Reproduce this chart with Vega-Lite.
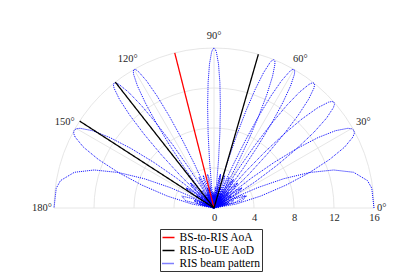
{
"$schema":"https://vega.github.io/schema/vega-lite/v6.json",
"width":320,"height":160,"autosize":"none",
"padding":{"left":54,"top":48,"right":41,"bottom":64},
"background":"white",
"config":{"view":{"stroke":null},"font":"Liberation Serif",
"legend":{"labelFont":"Liberation Serif","labelFontSize":11.5,"labelColor":"#000","symbolType":"stroke","symbolSize":144,"symbolStrokeWidth":1.3,"rowPadding":0,"labelOffset":4,"padding":1.5,"strokeColor":"#333","fillColor":"white"}},
"datasets":{
"circ":[{"a":0,"c":[4,8,12,16]},{"a":5,"c":[4,8,12,16]},{"a":10,"c":[4,8,12,16]},{"a":15,"c":[4,8,12,16]},{"a":20,"c":[4,8,12,16]},{"a":25,"c":[4,8,12,16]},{"a":30,"c":[4,8,12,16]},{"a":35,"c":[4,8,12,16]},{"a":40,"c":[4,8,12,16]},{"a":45,"c":[4,8,12,16]},{"a":50,"c":[4,8,12,16]},{"a":55,"c":[4,8,12,16]},{"a":60,"c":[4,8,12,16]},{"a":65,"c":[4,8,12,16]},{"a":70,"c":[4,8,12,16]},{"a":75,"c":[4,8,12,16]},{"a":80,"c":[4,8,12,16]},{"a":85,"c":[4,8,12,16]},{"a":90,"c":[4,8,12,16]},{"a":95,"c":[4,8,12,16]},{"a":100,"c":[4,8,12,16]},{"a":105,"c":[4,8,12,16]},{"a":110,"c":[4,8,12,16]},{"a":115,"c":[4,8,12,16]},{"a":120,"c":[4,8,12,16]},{"a":125,"c":[4,8,12,16]},{"a":130,"c":[4,8,12,16]},{"a":135,"c":[4,8,12,16]},{"a":140,"c":[4,8,12,16]},{"a":145,"c":[4,8,12,16]},{"a":150,"c":[4,8,12,16]},{"a":155,"c":[4,8,12,16]},{"a":160,"c":[4,8,12,16]},{"a":165,"c":[4,8,12,16]},{"a":170,"c":[4,8,12,16]},{"a":175,"c":[4,8,12,16]},{"a":180,"c":[4,8,12,16]}],
"spokes":[{"a":0,"r":0},{"a":0,"r":16},{"a":30,"r":0},{"a":30,"r":16},{"a":60,"r":0},{"a":60,"r":16},{"a":90,"r":0},{"a":90,"r":16},{"a":120,"r":0},{"a":120,"r":16},{"a":150,"r":0},{"a":150,"r":16},{"a":180,"r":0},{"a":180,"r":16}],
"labels":[{"a":0,"t":"0°"},{"a":30,"t":"30°"},{"a":60,"t":"60°"},{"a":90,"t":"90°"},{"a":120,"t":"120°"},{"a":150,"t":"150°"},{"a":180,"t":"180°"}],
"dirs":[{"s":"BS-to-RIS AoA","g":1,"a":104.2,"r":0},{"s":"BS-to-RIS AoA","g":1,"a":104.2,"r":16},
{"s":"RIS-to-UE AoD","g":2,"a":73.9,"r":0},{"s":"RIS-to-UE AoD","g":2,"a":73.9,"r":16},
{"s":"RIS-to-UE AoD","g":3,"a":128.1,"r":0},{"s":"RIS-to-UE AoD","g":3,"a":128.1,"r":16},
{"s":"RIS-to-UE AoD","g":4,"a":147.1,"r":0},{"s":"RIS-to-UE AoD","g":4,"a":147.1,"r":16}],
"beams":[
{"b":1,"u":1,"r":16},{"b":1,"u":0.9922,"r":15.9},{"b":1,"u":0.9844,"r":15.59},{"b":1,"u":0.9688,"r":14.41},{"b":1,"u":0.9531,"r":12.56},{"b":1,"u":0.9375,"r":10.2},{"b":1,"u":0.9219,"r":7.55},{"b":1,"u":0.9063,"r":4.82},{"b":1,"u":0.8906,"r":2.24},{"b":1,"u":0.875,"r":0},{"b":1,"u":0.8438,"r":2.91},{"b":1,"u":0.8125,"r":3.44},{"b":1,"u":0.7813,"r":2.1},{"b":1,"u":0.75,"r":0},{"b":1,"u":0.7188,"r":1.65},{"b":1,"u":0.6875,"r":2.12},{"b":1,"u":0.6563,"r":1.38},{"b":1,"u":0.625,"r":0},{"b":1,"u":0.5938,"r":1.19},{"b":1,"u":0.5625,"r":1.58},{"b":1,"u":0.5313,"r":1.05},{"b":1,"u":0.5,"r":0},{"b":1,"u":0.4375,"r":1.29},{"b":1,"u":0.375,"r":0},{"b":1,"u":0.3125,"r":1.13},{"b":1,"u":0.25,"r":0},{"b":1,"u":0.1875,"r":1.05},{"b":1,"u":0.125,"r":0},{"b":1,"u":0.0625,"r":1},{"b":1,"u":0,"r":0},
{"b":1,"u":-0.0625,"r":1},{"b":1,"u":-0.125,"r":0},{"b":1,"u":-0.1875,"r":1.05},{"b":1,"u":-0.25,"r":0},{"b":1,"u":-0.3125,"r":1.13},{"b":1,"u":-0.375,"r":0},{"b":1,"u":-0.4375,"r":1.29},{"b":1,"u":-0.5,"r":0},{"b":1,"u":-0.5313,"r":1.05},{"b":1,"u":-0.5625,"r":1.58},{"b":1,"u":-0.5938,"r":1.19},{"b":1,"u":-0.625,"r":0},{"b":1,"u":-0.6563,"r":1.38},{"b":1,"u":-0.6875,"r":2.12},{"b":1,"u":-0.7188,"r":1.65},{"b":1,"u":-0.75,"r":0},{"b":1,"u":-0.7813,"r":2.1},{"b":1,"u":-0.8125,"r":3.44},{"b":1,"u":-0.8438,"r":2.91},{"b":1,"u":-0.875,"r":0},{"b":1,"u":-0.8906,"r":2.24},{"b":1,"u":-0.9063,"r":4.82},{"b":1,"u":-0.9219,"r":7.55},{"b":1,"u":-0.9375,"r":10.2},{"b":1,"u":-0.9531,"r":12.56},{"b":1,"u":-0.9688,"r":14.41},{"b":1,"u":-0.9844,"r":15.59},{"b":1,"u":-0.9922,"r":15.9},{"b":1,"u":-1,"r":16},
{"b":2,"u":1,"r":0},{"b":2,"u":0.9844,"r":2.24},{"b":2,"u":0.9688,"r":4.82},{"b":2,"u":0.9531,"r":7.55},{"b":2,"u":0.9375,"r":10.2},{"b":2,"u":0.9219,"r":12.56},{"b":2,"u":0.9063,"r":14.41},{"b":2,"u":0.8906,"r":15.59},{"b":2,"u":0.8828,"r":15.9},{"b":2,"u":0.875,"r":16},{"b":2,"u":0.8672,"r":15.9},{"b":2,"u":0.8594,"r":15.59},{"b":2,"u":0.8438,"r":14.41},{"b":2,"u":0.8281,"r":12.56},{"b":2,"u":0.8125,"r":10.2},{"b":2,"u":0.7969,"r":7.55},{"b":2,"u":0.7813,"r":4.82},{"b":2,"u":0.7656,"r":2.24},{"b":2,"u":0.75,"r":0},{"b":2,"u":0.7188,"r":2.91},{"b":2,"u":0.6875,"r":3.44},{"b":2,"u":0.6563,"r":2.1},{"b":2,"u":0.625,"r":0},{"b":2,"u":0.5938,"r":1.65},{"b":2,"u":0.5625,"r":2.12},{"b":2,"u":0.5313,"r":1.38},{"b":2,"u":0.5,"r":0},{"b":2,"u":0.4688,"r":1.19},{"b":2,"u":0.4375,"r":1.58},{"b":2,"u":0.4063,"r":1.05},{"b":2,"u":0.375,"r":0},{"b":2,"u":0.3125,"r":1.29},{"b":2,"u":0.25,"r":0},{"b":2,"u":0.1875,"r":1.13},{"b":2,"u":0.125,"r":0},{"b":2,"u":0.0625,"r":1.05},{"b":2,"u":0,"r":0},{"b":2,"u":-0.0625,"r":1},{"b":2,"u":-0.125,"r":0},{"b":2,"u":-0.1875,"r":1},{"b":2,"u":-0.25,"r":0},{"b":2,"u":-0.3125,"r":1.05},{"b":2,"u":-0.375,"r":0},{"b":2,"u":-0.4375,"r":1.13},{"b":2,"u":-0.5,"r":0},{"b":2,"u":-0.5625,"r":1.29},{"b":2,"u":-0.625,"r":0},{"b":2,"u":-0.6563,"r":1.05},{"b":2,"u":-0.6875,"r":1.58},{"b":2,"u":-0.7188,"r":1.19},{"b":2,"u":-0.75,"r":0},{"b":2,"u":-0.7813,"r":1.38},{"b":2,"u":-0.8125,"r":2.12},{"b":2,"u":-0.8438,"r":1.65},{"b":2,"u":-0.875,"r":0},{"b":2,"u":-0.9063,"r":2.1},{"b":2,"u":-0.9375,"r":3.44},{"b":2,"u":-0.9688,"r":2.91},{"b":2,"u":-1,"r":0},
{"b":3,"u":1,"r":0},{"b":3,"u":0.9688,"r":2.1},{"b":3,"u":0.9375,"r":3.44},{"b":3,"u":0.9063,"r":2.91},{"b":3,"u":0.875,"r":0},{"b":3,"u":0.8594,"r":2.24},{"b":3,"u":0.8438,"r":4.82},{"b":3,"u":0.8281,"r":7.55},{"b":3,"u":0.8125,"r":10.2},{"b":3,"u":0.7969,"r":12.56},{"b":3,"u":0.7813,"r":14.41},{"b":3,"u":0.7656,"r":15.59},{"b":3,"u":0.7578,"r":15.9},{"b":3,"u":0.75,"r":16},{"b":3,"u":0.7422,"r":15.9},{"b":3,"u":0.7344,"r":15.59},{"b":3,"u":0.7188,"r":14.41},{"b":3,"u":0.7031,"r":12.56},{"b":3,"u":0.6875,"r":10.2},{"b":3,"u":0.6719,"r":7.55},{"b":3,"u":0.6563,"r":4.82},{"b":3,"u":0.6406,"r":2.24},{"b":3,"u":0.625,"r":0},{"b":3,"u":0.5938,"r":2.91},{"b":3,"u":0.5625,"r":3.44},{"b":3,"u":0.5313,"r":2.1},{"b":3,"u":0.5,"r":0},{"b":3,"u":0.4688,"r":1.65},{"b":3,"u":0.4375,"r":2.12},{"b":3,"u":0.4063,"r":1.38},{"b":3,"u":0.375,"r":0},{"b":3,"u":0.3438,"r":1.19},{"b":3,"u":0.3125,"r":1.58},{"b":3,"u":0.2813,"r":1.05},{"b":3,"u":0.25,"r":0},{"b":3,"u":0.1875,"r":1.29},{"b":3,"u":0.125,"r":0},{"b":3,"u":0.0625,"r":1.13},{"b":3,"u":0,"r":0},{"b":3,"u":-0.0625,"r":1.05},{"b":3,"u":-0.125,"r":0},{"b":3,"u":-0.1875,"r":1},{"b":3,"u":-0.25,"r":0},{"b":3,"u":-0.3125,"r":1},{"b":3,"u":-0.375,"r":0},{"b":3,"u":-0.4375,"r":1.05},{"b":3,"u":-0.5,"r":0},{"b":3,"u":-0.5625,"r":1.13},{"b":3,"u":-0.625,"r":0},{"b":3,"u":-0.6875,"r":1.29},{"b":3,"u":-0.75,"r":0},{"b":3,"u":-0.7813,"r":1.05},{"b":3,"u":-0.8125,"r":1.58},{"b":3,"u":-0.8438,"r":1.19},{"b":3,"u":-0.875,"r":0},{"b":3,"u":-0.9063,"r":1.38},{"b":3,"u":-0.9375,"r":2.12},{"b":3,"u":-0.9688,"r":1.65},{"b":3,"u":-1,"r":0},
{"b":4,"u":1,"r":0},{"b":4,"u":0.9688,"r":1.38},{"b":4,"u":0.9375,"r":2.12},{"b":4,"u":0.9063,"r":1.65},{"b":4,"u":0.875,"r":0},{"b":4,"u":0.8438,"r":2.1},{"b":4,"u":0.8125,"r":3.44},{"b":4,"u":0.7813,"r":2.91},{"b":4,"u":0.75,"r":0},{"b":4,"u":0.7344,"r":2.24},{"b":4,"u":0.7188,"r":4.82},{"b":4,"u":0.7031,"r":7.55},{"b":4,"u":0.6875,"r":10.2},{"b":4,"u":0.6719,"r":12.56},{"b":4,"u":0.6563,"r":14.41},{"b":4,"u":0.6406,"r":15.59},{"b":4,"u":0.6328,"r":15.9},{"b":4,"u":0.625,"r":16},{"b":4,"u":0.6172,"r":15.9},{"b":4,"u":0.6094,"r":15.59},{"b":4,"u":0.5938,"r":14.41},{"b":4,"u":0.5781,"r":12.56},{"b":4,"u":0.5625,"r":10.2},{"b":4,"u":0.5469,"r":7.55},{"b":4,"u":0.5313,"r":4.82},{"b":4,"u":0.5156,"r":2.24},{"b":4,"u":0.5,"r":0},{"b":4,"u":0.4688,"r":2.91},{"b":4,"u":0.4375,"r":3.44},{"b":4,"u":0.4063,"r":2.1},{"b":4,"u":0.375,"r":0},{"b":4,"u":0.3438,"r":1.65},{"b":4,"u":0.3125,"r":2.12},{"b":4,"u":0.2813,"r":1.38},{"b":4,"u":0.25,"r":0},{"b":4,"u":0.2188,"r":1.19},{"b":4,"u":0.1875,"r":1.58},{"b":4,"u":0.1563,"r":1.05},{"b":4,"u":0.125,"r":0},{"b":4,"u":0.0625,"r":1.29},{"b":4,"u":0,"r":0},{"b":4,"u":-0.0625,"r":1.13},{"b":4,"u":-0.125,"r":0},{"b":4,"u":-0.1875,"r":1.05},{"b":4,"u":-0.25,"r":0},{"b":4,"u":-0.3125,"r":1},{"b":4,"u":-0.375,"r":0},{"b":4,"u":-0.4375,"r":1},{"b":4,"u":-0.5,"r":0},{"b":4,"u":-0.5625,"r":1.05},{"b":4,"u":-0.625,"r":0},{"b":4,"u":-0.6875,"r":1.13},{"b":4,"u":-0.75,"r":0},{"b":4,"u":-0.8125,"r":1.29},{"b":4,"u":-0.875,"r":0},{"b":4,"u":-0.9063,"r":1.05},{"b":4,"u":-0.9375,"r":1.58},{"b":4,"u":-0.9688,"r":1.19},{"b":4,"u":-1,"r":0},
{"b":5,"u":1,"r":0},{"b":5,"u":0.9688,"r":1.05},{"b":5,"u":0.9375,"r":1.58},{"b":5,"u":0.9063,"r":1.19},{"b":5,"u":0.875,"r":0},{"b":5,"u":0.8438,"r":1.38},{"b":5,"u":0.8125,"r":2.12},{"b":5,"u":0.7813,"r":1.65},{"b":5,"u":0.75,"r":0},{"b":5,"u":0.7188,"r":2.1},{"b":5,"u":0.6875,"r":3.44},{"b":5,"u":0.6563,"r":2.91},{"b":5,"u":0.625,"r":0},{"b":5,"u":0.6094,"r":2.24},{"b":5,"u":0.5938,"r":4.82},{"b":5,"u":0.5781,"r":7.55},{"b":5,"u":0.5625,"r":10.2},{"b":5,"u":0.5469,"r":12.56},{"b":5,"u":0.5313,"r":14.41},{"b":5,"u":0.5156,"r":15.59},{"b":5,"u":0.5078,"r":15.9},{"b":5,"u":0.5,"r":16},{"b":5,"u":0.4922,"r":15.9},{"b":5,"u":0.4844,"r":15.59},{"b":5,"u":0.4688,"r":14.41},{"b":5,"u":0.4531,"r":12.56},{"b":5,"u":0.4375,"r":10.2},{"b":5,"u":0.4219,"r":7.55},{"b":5,"u":0.4063,"r":4.82},{"b":5,"u":0.3906,"r":2.24},{"b":5,"u":0.375,"r":0},{"b":5,"u":0.3438,"r":2.91},{"b":5,"u":0.3125,"r":3.44},{"b":5,"u":0.2813,"r":2.1},{"b":5,"u":0.25,"r":0},{"b":5,"u":0.2188,"r":1.65},{"b":5,"u":0.1875,"r":2.12},{"b":5,"u":0.1563,"r":1.38},{"b":5,"u":0.125,"r":0},{"b":5,"u":0.0938,"r":1.19},{"b":5,"u":0.0625,"r":1.58},{"b":5,"u":0.0313,"r":1.05},{"b":5,"u":0,"r":0},{"b":5,"u":-0.0625,"r":1.29},{"b":5,"u":-0.125,"r":0},{"b":5,"u":-0.1875,"r":1.13},{"b":5,"u":-0.25,"r":0},{"b":5,"u":-0.3125,"r":1.05},{"b":5,"u":-0.375,"r":0},{"b":5,"u":-0.4375,"r":1},{"b":5,"u":-0.5,"r":0},{"b":5,"u":-0.5625,"r":1},{"b":5,"u":-0.625,"r":0},{"b":5,"u":-0.6875,"r":1.05},{"b":5,"u":-0.75,"r":0},{"b":5,"u":-0.8125,"r":1.13},{"b":5,"u":-0.875,"r":0},{"b":5,"u":-0.9375,"r":1.29},{"b":5,"u":-1,"r":0},
{"b":6,"u":1,"r":0},{"b":6,"u":0.9375,"r":1.29},{"b":6,"u":0.875,"r":0},{"b":6,"u":0.8438,"r":1.05},{"b":6,"u":0.8125,"r":1.58},{"b":6,"u":0.7813,"r":1.19},{"b":6,"u":0.75,"r":0},{"b":6,"u":0.7188,"r":1.38},{"b":6,"u":0.6875,"r":2.12},{"b":6,"u":0.6563,"r":1.65},{"b":6,"u":0.625,"r":0},{"b":6,"u":0.5938,"r":2.1},{"b":6,"u":0.5625,"r":3.44},{"b":6,"u":0.5313,"r":2.91},{"b":6,"u":0.5,"r":0},{"b":6,"u":0.4844,"r":2.24},{"b":6,"u":0.4688,"r":4.82},{"b":6,"u":0.4531,"r":7.55},{"b":6,"u":0.4375,"r":10.2},{"b":6,"u":0.4219,"r":12.56},{"b":6,"u":0.4063,"r":14.41},{"b":6,"u":0.3906,"r":15.59},{"b":6,"u":0.3828,"r":15.9},{"b":6,"u":0.375,"r":16},{"b":6,"u":0.3672,"r":15.9},{"b":6,"u":0.3594,"r":15.59},{"b":6,"u":0.3438,"r":14.41},{"b":6,"u":0.3281,"r":12.56},{"b":6,"u":0.3125,"r":10.2},{"b":6,"u":0.2969,"r":7.55},{"b":6,"u":0.2813,"r":4.82},{"b":6,"u":0.2656,"r":2.24},{"b":6,"u":0.25,"r":0},{"b":6,"u":0.2188,"r":2.91},{"b":6,"u":0.1875,"r":3.44},{"b":6,"u":0.1563,"r":2.1},{"b":6,"u":0.125,"r":0},{"b":6,"u":0.0938,"r":1.65},{"b":6,"u":0.0625,"r":2.12},{"b":6,"u":0.0313,"r":1.38},{"b":6,"u":0,"r":0},{"b":6,"u":-0.0313,"r":1.19},{"b":6,"u":-0.0625,"r":1.58},{"b":6,"u":-0.0938,"r":1.05},{"b":6,"u":-0.125,"r":0},{"b":6,"u":-0.1875,"r":1.29},{"b":6,"u":-0.25,"r":0},{"b":6,"u":-0.3125,"r":1.13},{"b":6,"u":-0.375,"r":0},{"b":6,"u":-0.4375,"r":1.05},{"b":6,"u":-0.5,"r":0},{"b":6,"u":-0.5625,"r":1},{"b":6,"u":-0.625,"r":0},{"b":6,"u":-0.6875,"r":1},{"b":6,"u":-0.75,"r":0},{"b":6,"u":-0.8125,"r":1.05},{"b":6,"u":-0.875,"r":0},{"b":6,"u":-0.9375,"r":1.13},{"b":6,"u":-1,"r":0},
{"b":7,"u":1,"r":0},{"b":7,"u":0.9375,"r":1},{"b":7,"u":0.875,"r":0},{"b":7,"u":0.8125,"r":1.05},{"b":7,"u":0.75,"r":0},{"b":7,"u":0.6875,"r":1.13},{"b":7,"u":0.625,"r":0},{"b":7,"u":0.5625,"r":1.29},{"b":7,"u":0.5,"r":0},{"b":7,"u":0.4688,"r":1.05},{"b":7,"u":0.4375,"r":1.58},{"b":7,"u":0.4063,"r":1.19},{"b":7,"u":0.375,"r":0},{"b":7,"u":0.3438,"r":1.38},{"b":7,"u":0.3125,"r":2.12},{"b":7,"u":0.2813,"r":1.65},{"b":7,"u":0.25,"r":0},{"b":7,"u":0.2188,"r":2.1},{"b":7,"u":0.1875,"r":3.44},{"b":7,"u":0.1563,"r":2.91},{"b":7,"u":0.125,"r":0},{"b":7,"u":0.1094,"r":2.24},{"b":7,"u":0.0938,"r":4.82},{"b":7,"u":0.0781,"r":7.55},{"b":7,"u":0.0625,"r":10.2},{"b":7,"u":0.0469,"r":12.56},{"b":7,"u":0.0313,"r":14.41},{"b":7,"u":0.0156,"r":15.59},{"b":7,"u":0.0078,"r":15.9},{"b":7,"u":0,"r":16},
{"b":7,"u":-0.0078,"r":15.9},{"b":7,"u":-0.0156,"r":15.59},{"b":7,"u":-0.0313,"r":14.41},{"b":7,"u":-0.0469,"r":12.56},{"b":7,"u":-0.0625,"r":10.2},{"b":7,"u":-0.0781,"r":7.55},{"b":7,"u":-0.0938,"r":4.82},{"b":7,"u":-0.1094,"r":2.24},{"b":7,"u":-0.125,"r":0},{"b":7,"u":-0.1563,"r":2.91},{"b":7,"u":-0.1875,"r":3.44},{"b":7,"u":-0.2188,"r":2.1},{"b":7,"u":-0.25,"r":0},{"b":7,"u":-0.2813,"r":1.65},{"b":7,"u":-0.3125,"r":2.12},{"b":7,"u":-0.3438,"r":1.38},{"b":7,"u":-0.375,"r":0},{"b":7,"u":-0.4063,"r":1.19},{"b":7,"u":-0.4375,"r":1.58},{"b":7,"u":-0.4688,"r":1.05},{"b":7,"u":-0.5,"r":0},{"b":7,"u":-0.5625,"r":1.29},{"b":7,"u":-0.625,"r":0},{"b":7,"u":-0.6875,"r":1.13},{"b":7,"u":-0.75,"r":0},{"b":7,"u":-0.8125,"r":1.05},{"b":7,"u":-0.875,"r":0},{"b":7,"u":-0.9375,"r":1},{"b":7,"u":-1,"r":0},
{"b":8,"u":-1,"r":0},{"b":8,"u":-0.9688,"r":1.05},{"b":8,"u":-0.9375,"r":1.58},{"b":8,"u":-0.9063,"r":1.19},{"b":8,"u":-0.875,"r":0},{"b":8,"u":-0.8438,"r":1.38},{"b":8,"u":-0.8125,"r":2.12},{"b":8,"u":-0.7813,"r":1.65},{"b":8,"u":-0.75,"r":0},{"b":8,"u":-0.7188,"r":2.1},{"b":8,"u":-0.6875,"r":3.44},{"b":8,"u":-0.6563,"r":2.91},{"b":8,"u":-0.625,"r":0},{"b":8,"u":-0.6094,"r":2.24},{"b":8,"u":-0.5938,"r":4.82},{"b":8,"u":-0.5781,"r":7.55},{"b":8,"u":-0.5625,"r":10.2},{"b":8,"u":-0.5469,"r":12.56},{"b":8,"u":-0.5313,"r":14.41},{"b":8,"u":-0.5156,"r":15.59},{"b":8,"u":-0.5078,"r":15.9},{"b":8,"u":-0.5,"r":16},{"b":8,"u":-0.4922,"r":15.9},{"b":8,"u":-0.4844,"r":15.59},{"b":8,"u":-0.4688,"r":14.41},{"b":8,"u":-0.4531,"r":12.56},{"b":8,"u":-0.4375,"r":10.2},{"b":8,"u":-0.4219,"r":7.55},{"b":8,"u":-0.4063,"r":4.82},{"b":8,"u":-0.3906,"r":2.24},{"b":8,"u":-0.375,"r":0},{"b":8,"u":-0.3438,"r":2.91},{"b":8,"u":-0.3125,"r":3.44},{"b":8,"u":-0.2813,"r":2.1},{"b":8,"u":-0.25,"r":0},{"b":8,"u":-0.2188,"r":1.65},{"b":8,"u":-0.1875,"r":2.12},{"b":8,"u":-0.1563,"r":1.38},{"b":8,"u":-0.125,"r":0},{"b":8,"u":-0.0938,"r":1.19},{"b":8,"u":-0.0625,"r":1.58},{"b":8,"u":-0.0313,"r":1.05},{"b":8,"u":0,"r":0},{"b":8,"u":0.0625,"r":1.29},{"b":8,"u":0.125,"r":0},{"b":8,"u":0.1875,"r":1.13},{"b":8,"u":0.25,"r":0},{"b":8,"u":0.3125,"r":1.05},{"b":8,"u":0.375,"r":0},{"b":8,"u":0.4375,"r":1},{"b":8,"u":0.5,"r":0},{"b":8,"u":0.5625,"r":1},{"b":8,"u":0.625,"r":0},{"b":8,"u":0.6875,"r":1.05},{"b":8,"u":0.75,"r":0},{"b":8,"u":0.8125,"r":1.13},{"b":8,"u":0.875,"r":0},{"b":8,"u":0.9375,"r":1.29},{"b":8,"u":1,"r":0},
{"b":9,"u":-1,"r":0},{"b":9,"u":-0.9688,"r":1.38},{"b":9,"u":-0.9375,"r":2.12},{"b":9,"u":-0.9063,"r":1.65},{"b":9,"u":-0.875,"r":0},{"b":9,"u":-0.8438,"r":2.1},{"b":9,"u":-0.8125,"r":3.44},{"b":9,"u":-0.7813,"r":2.91},{"b":9,"u":-0.75,"r":0},{"b":9,"u":-0.7344,"r":2.24},{"b":9,"u":-0.7188,"r":4.82},{"b":9,"u":-0.7031,"r":7.55},{"b":9,"u":-0.6875,"r":10.2},{"b":9,"u":-0.6719,"r":12.56},{"b":9,"u":-0.6563,"r":14.41},{"b":9,"u":-0.6406,"r":15.59},{"b":9,"u":-0.6328,"r":15.9},{"b":9,"u":-0.625,"r":16},{"b":9,"u":-0.6172,"r":15.9},{"b":9,"u":-0.6094,"r":15.59},{"b":9,"u":-0.5938,"r":14.41},{"b":9,"u":-0.5781,"r":12.56},{"b":9,"u":-0.5625,"r":10.2},{"b":9,"u":-0.5469,"r":7.55},{"b":9,"u":-0.5313,"r":4.82},{"b":9,"u":-0.5156,"r":2.24},{"b":9,"u":-0.5,"r":0},{"b":9,"u":-0.4688,"r":2.91},{"b":9,"u":-0.4375,"r":3.44},{"b":9,"u":-0.4063,"r":2.1},{"b":9,"u":-0.375,"r":0},{"b":9,"u":-0.3438,"r":1.65},{"b":9,"u":-0.3125,"r":2.12},{"b":9,"u":-0.2813,"r":1.38},{"b":9,"u":-0.25,"r":0},{"b":9,"u":-0.2188,"r":1.19},{"b":9,"u":-0.1875,"r":1.58},{"b":9,"u":-0.1563,"r":1.05},{"b":9,"u":-0.125,"r":0},{"b":9,"u":-0.0625,"r":1.29},{"b":9,"u":0,"r":0},{"b":9,"u":0.0625,"r":1.13},{"b":9,"u":0.125,"r":0},{"b":9,"u":0.1875,"r":1.05},{"b":9,"u":0.25,"r":0},{"b":9,"u":0.3125,"r":1},{"b":9,"u":0.375,"r":0},{"b":9,"u":0.4375,"r":1},{"b":9,"u":0.5,"r":0},{"b":9,"u":0.5625,"r":1.05},{"b":9,"u":0.625,"r":0},{"b":9,"u":0.6875,"r":1.13},{"b":9,"u":0.75,"r":0},{"b":9,"u":0.8125,"r":1.29},{"b":9,"u":0.875,"r":0},{"b":9,"u":0.9063,"r":1.05},{"b":9,"u":0.9375,"r":1.58},{"b":9,"u":0.9688,"r":1.19},{"b":9,"u":1,"r":0},
{"b":10,"u":-1,"r":0},{"b":10,"u":-0.9844,"r":2.24},{"b":10,"u":-0.9688,"r":4.82},{"b":10,"u":-0.9531,"r":7.55},{"b":10,"u":-0.9375,"r":10.2},{"b":10,"u":-0.9219,"r":12.56},{"b":10,"u":-0.9063,"r":14.41},{"b":10,"u":-0.8906,"r":15.59},{"b":10,"u":-0.8828,"r":15.9},{"b":10,"u":-0.875,"r":16},{"b":10,"u":-0.8672,"r":15.9},{"b":10,"u":-0.8594,"r":15.59},{"b":10,"u":-0.8438,"r":14.41},{"b":10,"u":-0.8281,"r":12.56},{"b":10,"u":-0.8125,"r":10.2},{"b":10,"u":-0.7969,"r":7.55},{"b":10,"u":-0.7813,"r":4.82},{"b":10,"u":-0.7656,"r":2.24},{"b":10,"u":-0.75,"r":0},{"b":10,"u":-0.7188,"r":2.91},{"b":10,"u":-0.6875,"r":3.44},{"b":10,"u":-0.6563,"r":2.1},{"b":10,"u":-0.625,"r":0},{"b":10,"u":-0.5938,"r":1.65},{"b":10,"u":-0.5625,"r":2.12},{"b":10,"u":-0.5313,"r":1.38},{"b":10,"u":-0.5,"r":0},{"b":10,"u":-0.4688,"r":1.19},{"b":10,"u":-0.4375,"r":1.58},{"b":10,"u":-0.4063,"r":1.05},{"b":10,"u":-0.375,"r":0},{"b":10,"u":-0.3125,"r":1.29},{"b":10,"u":-0.25,"r":0},{"b":10,"u":-0.1875,"r":1.13},{"b":10,"u":-0.125,"r":0},{"b":10,"u":-0.0625,"r":1.05},{"b":10,"u":0,"r":0},{"b":10,"u":0.0625,"r":1},{"b":10,"u":0.125,"r":0},{"b":10,"u":0.1875,"r":1},{"b":10,"u":0.25,"r":0},{"b":10,"u":0.3125,"r":1.05},{"b":10,"u":0.375,"r":0},{"b":10,"u":0.4375,"r":1.13},{"b":10,"u":0.5,"r":0},{"b":10,"u":0.5625,"r":1.29},{"b":10,"u":0.625,"r":0},{"b":10,"u":0.6563,"r":1.05},{"b":10,"u":0.6875,"r":1.58},{"b":10,"u":0.7188,"r":1.19},{"b":10,"u":0.75,"r":0},{"b":10,"u":0.7813,"r":1.38},{"b":10,"u":0.8125,"r":2.12},{"b":10,"u":0.8438,"r":1.65},{"b":10,"u":0.875,"r":0},{"b":10,"u":0.9063,"r":2.1},{"b":10,"u":0.9375,"r":3.44},{"b":10,"u":0.9688,"r":2.91},{"b":10,"u":1,"r":0}
]},
"layer":[
{"data":{"name":"circ"},
"transform":[{"flatten":["c"]},{"calculate":"datum.c*cos(datum.a*PI/180)","as":"x"},{"calculate":"datum.c*sin(datum.a*PI/180)","as":"y"}],
"mark":{"type":"line","stroke":"#e0e0e0","strokeWidth":0.8},
"encoding":{"x":{"field":"x","type":"quantitative"},"y":{"field":"y","type":"quantitative","axis":null},"detail":{"field":"c"},"order":{"field":"a"}}},
{"data":{"name":"spokes"},
"transform":[{"calculate":"datum.r*cos(datum.a*PI/180)","as":"x"},{"calculate":"datum.r*sin(datum.a*PI/180)","as":"y"}],
"mark":{"type":"line","stroke":"#e0e0e0","strokeWidth":0.8},
"encoding":{"x":{"field":"x","type":"quantitative"},"y":{"field":"y","type":"quantitative","axis":null},"detail":{"field":"a"},"order":{"field":"r"}}},
{"data":{"name":"beams"},
"transform":[{"calculate":"datum.r*datum.u","as":"x"},{"calculate":"datum.r*sqrt(max(0,1-datum.u*datum.u))","as":"y"}],
"mark":{"type":"line","strokeWidth":1,"strokeCap":"butt"},
"encoding":{
"x":{"field":"x","type":"quantitative","scale":{"domain":[-16,16],"nice":false,"zero":false},"axis":{"values":[0,4,8,12,16],"domain":false,"ticks":false,"grid":false,"title":null,"labelFont":"Liberation Serif","labelFontSize":10.5,"labelColor":"#262626","labelPadding":4,"labelFlush":false,"labelOverlap":false}},
"y":{"field":"y","type":"quantitative","scale":{"domain":[0,16],"nice":false,"zero":false},"axis":null},
"detail":{"field":"b"},"order":{"field":"u","sort":"descending"},
"color":{"datum":"RIS beam pattern","type":"nominal"},
"strokeDash":{"datum":"RIS beam pattern","type":"nominal"}}},
{"data":{"name":"dirs"},
"transform":[{"calculate":"datum.r*cos(datum.a*PI/180)","as":"x"},{"calculate":"datum.r*sin(datum.a*PI/180)","as":"y"}],
"mark":{"type":"line","strokeWidth":1.3},
"encoding":{
"x":{"field":"x","type":"quantitative"},
"y":{"field":"y","type":"quantitative","axis":null},
"detail":{"field":"g"},"order":{"field":"r"},
"color":{"field":"s","type":"nominal","scale":{"domain":["BS-to-RIS AoA","RIS-to-UE AoD","RIS beam pattern"],"range":["#ff0000","#000000","#0000ff"]},"legend":{"title":null,"orient":"none","legendX":106,"legendY":181}},
"strokeDash":{"field":"s","type":"nominal","scale":{"domain":["BS-to-RIS AoA","RIS-to-UE AoD","RIS beam pattern"],"range":[[1,0],[1,0],[1,1]]},"legend":{"title":null,"orient":"none","legendX":106,"legendY":181}}}},
{"data":{"name":"labels"},
"transform":[{"filter":"datum.a>0 && datum.a<180"},{"calculate":"17.25*cos(datum.a*PI/180)","as":"x"},{"calculate":"17.25*sin(datum.a*PI/180)","as":"y"}],
"mark":{"type":"text","font":"Liberation Serif","fontSize":10.5,"align":"center","baseline":"middle","fill":"#262626"},
"encoding":{"x":{"field":"x","type":"quantitative"},"y":{"field":"y","type":"quantitative","axis":null},"text":{"field":"t"}}},
{"data":{"name":"labels"},
"transform":[{"filter":"datum.a==0"},{"calculate":"16.3","as":"x"},{"calculate":"0","as":"y"}],
"mark":{"type":"text","font":"Liberation Serif","fontSize":10.5,"align":"left","baseline":"middle","fill":"#262626"},
"encoding":{"x":{"field":"x","type":"quantitative"},"y":{"field":"y","type":"quantitative","axis":null},"text":{"field":"t"}}},
{"data":{"name":"labels"},
"transform":[{"filter":"datum.a==180"},{"calculate":"-16.2","as":"x"},{"calculate":"0","as":"y"}],
"mark":{"type":"text","font":"Liberation Serif","fontSize":10.5,"align":"right","baseline":"middle","fill":"#262626"},
"encoding":{"x":{"field":"x","type":"quantitative"},"y":{"field":"y","type":"quantitative","axis":null},"text":{"field":"t"}}}
]
}
